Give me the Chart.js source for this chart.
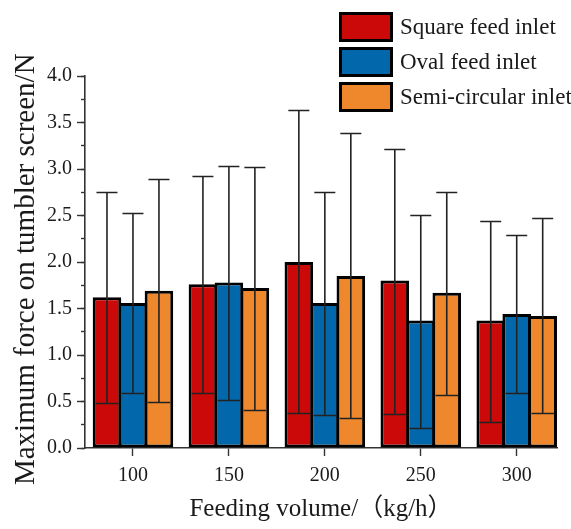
<!DOCTYPE html>
<html>
<head>
<meta charset="utf-8">
<script src="https://cdn.jsdelivr.net/npm/chart.js@4.4.1/dist/chart.umd.min.js"></script>
<style>
  html, body { margin: 0; padding: 0; background: #fff; }
  canvas { display: block; }
</style>
</head>
<body>
<canvas id="chart" width="571" height="529"></canvas>
<script>
// values
const feedVolumes = [100, 150, 200, 250, 300];
const seriesNames = ['Square feed inlet', 'Oval feed inlet', 'Semi-circular inlet'];
const seriesColors = ['#cc0909', '#0368ab', '#ef882c'];

const squareMean = [1.62, 1.76, 2.00, 1.80, 1.37];
const squareMax  = [2.75, 2.92, 3.63, 3.22, 2.44];
const squareMin  = [0.48, 0.59, 0.38, 0.37, 0.28];

const ovalMean = [1.56, 1.78, 1.56, 1.37, 1.44];
const ovalMax  = [2.53, 3.03, 2.75, 2.51, 2.29];
const ovalMin  = [0.59, 0.52, 0.36, 0.22, 0.59];

const semiMean = [1.69, 1.72, 1.85, 1.67, 1.42];
const semiMax  = [2.89, 3.02, 3.39, 2.75, 2.47];
const semiMin  = [0.49, 0.41, 0.32, 0.57, 0.38];

const yMin = 0, yMax = 4, yStep = 0.5, yMinorStep = 0.25;
const xMin = 75, xMax = 321;

const serif = "'Liberation Serif', 'Times New Roman', 'Noto Sans CJK SC', serif";
const ink = '#1a1a1a';

function makeSet(i, means, his, los) {
    return {
        label: seriesNames[i],
        data: feedVolumes.map((v, j) => ({ x: v, y: means[j] })),
        hi: his,
        lo: los,
        backgroundColor: seriesColors[i],
        borderColor: '#000',
        borderWidth: 3,
        borderSkipped: false,
        barPercentage: 1.1,
        categoryPercentage: 0.8125
    };
}

// whiskers: line from min to max, short cap on top, full cap at the bottom
const errorBars = {
    id: 'errorBars',
    afterDatasetsDraw(chart) {
        const ctx = chart.ctx;
        const y = chart.scales.y;
        ctx.save();
        ctx.strokeStyle = '#222';
        ctx.lineWidth = 1.6;
        chart.data.datasets.forEach((ds, di) => {
            chart.getDatasetMeta(di).data.forEach((bar, i) => {
                const top = Math.round(y.getPixelForValue(ds.hi[i])) + 0.5;
                const bot = Math.round(y.getPixelForValue(ds.lo[i])) + 0.5;
                const half = bar.width / 2 - 3;
                ctx.beginPath();
                ctx.moveTo(bar.x, top); ctx.lineTo(bar.x, bot);
                ctx.moveTo(bar.x - 10.5, top); ctx.lineTo(bar.x + 10.5, top);
                ctx.moveTo(bar.x - half, bot); ctx.lineTo(bar.x + half, bot);
                ctx.stroke();
            });
        });
        ctx.restore();
    }
};

// boxed legend sitting in the top right corner
const boxLegend = {
    id: 'boxLegend',
    afterDraw(chart) {
        const ctx = chart.ctx;
        ctx.save();
        ctx.font = '23px ' + serif;
        ctx.textBaseline = 'middle';
        chart.data.datasets.forEach((ds, i) => {
            const top = 12 + i * 35;
            ctx.fillStyle = ds.backgroundColor;
            ctx.fillRect(339, top, 54, 30);
            ctx.strokeStyle = '#000';
            ctx.lineWidth = 3;
            ctx.strokeRect(340.5, top + 1.5, 51, 27);
            ctx.fillStyle = ink;
            ctx.fillText(ds.label, 400, top + 16);
        });
        ctx.restore();
    }
};

new Chart(document.getElementById('chart'), {
    type: 'bar',
    data: {
        datasets: [
            makeSet(0, squareMean, squareMax, squareMin),
            makeSet(1, ovalMean, ovalMax, ovalMin),
            makeSet(2, semiMean, semiMax, semiMin)
        ]
    },
    options: {
        responsive: false,
        animation: false,
        layout: { padding: { top: 76, right: 14, bottom: 0, left: 0 } },
        plugins: { legend: { display: false }, tooltip: { enabled: false } },
        scales: {
            x: {
                type: 'linear',
                min: xMin,
                max: xMax,
                offset: false,
                afterBuildTicks: s => { s.ticks = feedVolumes.map(v => ({ value: v })); },
                afterFit: s => { s.height = 81; },
                ticks: { color: ink, font: { family: serif, size: 20 }, padding: 8, maxRotation: 0 },
                grid: { offset: false, drawOnChartArea: false, tickLength: 8, tickColor: '#333', tickWidth: 1.4 },
                border: { color: '#333', width: 1.6 },
                title: {
                    display: true,
                    text: 'Feeding volume/（kg/h）',
                    color: ink,
                    font: { family: serif, size: 25 },
                    padding: { top: 0, bottom: 5 }
                }
            },
            y: {
                position: 'left',
                weight: 1,
                min: yMin,
                max: yMax,
                afterFit: s => { s.width = 85; },
                ticks: { stepSize: yStep, color: ink, font: { family: serif, size: 20 }, padding: 5,
                         callback: v => v.toFixed(1) },
                grid: { drawOnChartArea: false, tickLength: 8, tickColor: '#333', tickWidth: 1.4 },
                border: { color: '#333', width: 1.6 },
                title: {
                    display: true,
                    text: 'Maximum force on tumbler screen/N  ',
                    color: ink,
                    font: { family: serif, size: 29 },
                    padding: { top: 9, bottom: 0 }
                }
            },
            yMinor: {
                position: 'left',
                weight: 0,
                min: yMin,
                max: yMax,
                afterFit: s => { s.width = 0; },
                ticks: { stepSize: yMinorStep, display: false },
                grid: { drawOnChartArea: false, tickLength: 4, tickColor: '#333', tickWidth: 1.4 },
                border: { display: false }
            }
        }
    },
    plugins: [errorBars, boxLegend]
});
</script>
</body>
</html>
